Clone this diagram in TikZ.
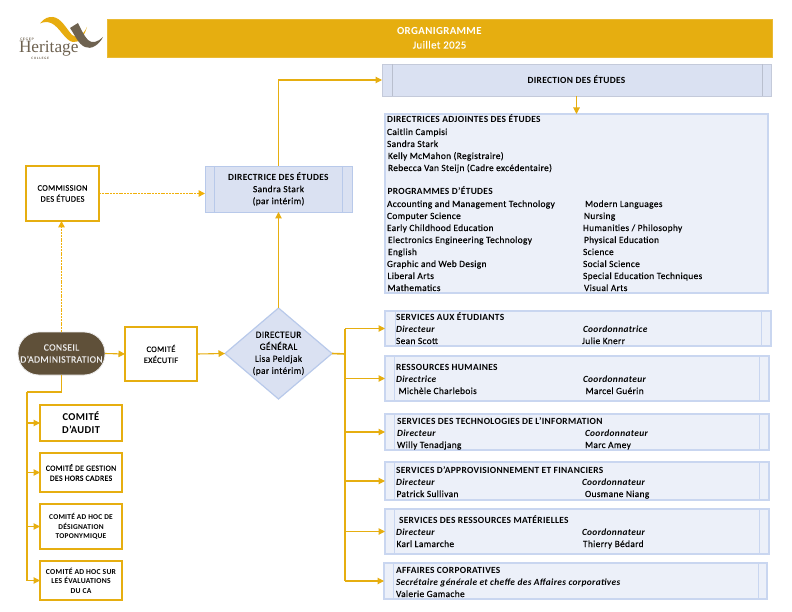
\documentclass[tikz,border=0pt]{standalone}
\usepackage{fontspec}
\setmainfont{Carlito}[LetterSpace=3.5,UprightFeatures={FakeBold=0.25}]
\newfontfamily\logofont{Liberation Serif}
\usetikzlibrary{arrows.meta,shapes.geometric}
\definecolor{gold}{HTML}{E6AE10}
\definecolor{dotgold}{RGB}{240,176,10}
\definecolor{boxblue}{HTML}{DAE1F2}
\definecolor{paleblue}{HTML}{ECF0F9}
\definecolor{edgeblue}{HTML}{B8C9EA}
\definecolor{softedge}{HTML}{C9D6F0}
\definecolor{brownfill}{HTML}{5F5039}
\definecolor{logobrown}{HTML}{6E6250}
\tikzset{x=1pt,y=-1pt,
 every node/.style={inner sep=0pt,outer sep=0pt,font=\fontsize{9.4}{12}\selectfont,text=black},
 conn/.style={draw=gold,line width=1.1pt,-{Triangle[length=6.5pt,width=6.5pt]}},
 plainconn/.style={draw=gold,line width=1.1pt},
 thickconn/.style={draw=gold,line width=1.6pt},
 dotconn/.style={color=dotgold,line width=1.5pt,dash pattern=on 2pt off .8pt,-{Triangle[length=6.5pt,width=6.5pt,color=dotgold,fill=dotgold]}},
 goldbox/.style={draw=gold,line width=1.6pt,fill=white,align=center,font=\fontsize{8.4}{11}\selectfont},
 panel/.style={draw=softedge,line width=1.2pt,fill=paleblue},
 innerline/.style={draw=softedge,line width=1pt},
 deepline/.style={draw=edgeblue,line width=.9pt},
 ltext/.style={anchor=base west},
}
\newcommand\bx[7][]{%
 \pgfmathsetmacro\bxw{#5-#3}\pgfmathsetmacro\bxh{#6-#4}%
 \pgfmathsetmacro\bxx{(#3+#5)/2}\pgfmathsetmacro\bxy{(#4+#6)/2}%
 \node[#1,minimum width=\bxw pt,minimum height=\bxh pt] (#2) at (\bxx,\bxy) {#7};}
\newcommand\lt[3]{\node[ltext] at (#1,#2) {#3};}
\newcommand\il[3]{\node[ltext] at (#1,#2) {\itshape #3};}
\begin{document}
\begin{tikzpicture}
\useasboundingbox (0,0) rectangle (792,612);
% logo
\fill[gold!95!orange] (40,23.5) .. controls (44,18) and (49,16.5) .. (53,17) .. controls (61,18) and (66,28) .. (72,35) .. controls (76,39) and (83,36) .. (87,27) .. controls (84,37) and (79,43) .. (73,42) .. controls (65,41) and (60,27) .. (51,23) .. controls (47,21.5) and (43,22) .. (40,23.5) -- cycle;
\fill[logobrown] (70,28) -- (78,23) .. controls (81,29) and (84,36) .. (88,40) .. controls (92,44) and (98,42) .. (103,37) .. controls (99,45) and (91,50) .. (85,47) .. controls (78,44) and (75,35) .. (70,28) -- cycle;
\node[ltext,font=\logofont\fontsize{17.3}{18}\selectfont,text=logobrown] (logoname) at (19,53) {Heritage};
\node[ltext,font=\sffamily\bfseries\fontsize{3.4}{4}\selectfont,text=logobrown] (logotop) at (20,40.3) {C\,E\,G\,E\,P};
\node[ltext,font=\sffamily\bfseries\fontsize{3.2}{4}\selectfont,text=logobrown] (logobot) at (31,60) {C\,O\,L\,L\,E\,G\,E};
% banner
\bx[fill=gold,draw=gold!85!white,align=center,text=white,font=\fontsize{10.8}{14}\selectfont]{banner}{107}{19}{772}{57}{\textbf{ORGANIGRAMME}\\Juillet 2025}
% direction
\bx[fill=boxblue,draw=boxblue!90!black,line width=.5pt,font=\bfseries\fontsize{9.4}{12}\selectfont]{de}{382}{64}{771}{96}{DIRECTION DES ÉTUDES}
\draw[draw=boxblue!85!black,line width=.5pt] (392,64) -- (392,96) (762,64) -- (762,96);
% programme panel
\bx[panel]{prog}{385}{114}{768}{293}{}
\lt{387}{123}{\textbf{DIRECTRICES ADJOINTES DES ÉTUDES}}
\lt{387}{135}{Caitlin Campisi}
\lt{387}{147}{Sandra Stark}
\lt{388}{159}{Kelly McMahon (Registraire)}
\lt{388}{171}{Rebecca Van Steijn (Cadre excédentaire)}
\lt{387.5}{195}{\textbf{PROGRAMMES D'ÉTUDES}}
\lt{387}{207}{Accounting and Management Technology}
\lt{387}{219}{Computer Science}
\lt{387}{231}{Early Childhood Education}
\lt{388}{243}{Electronics Engineering Technology}
\lt{388}{255}{English}
\lt{387}{267}{Graphic and Web Design}
\lt{387.5}{279}{Liberal Arts}
\lt{387.5}{291}{Mathematics}
\lt{585}{207}{Modern Languages}
\lt{584}{219}{Nursing}
\lt{583}{231}{Humanities / Philosophy}
\lt{584}{243}{Physical Education}
\lt{583}{255}{Science}
\lt{583}{267}{Social Science}
\lt{583}{279}{Special Education Techniques}
\lt{584}{291}{Visual Arts}
% directrice
\bx[fill=boxblue,draw=edgeblue,line width=.9pt,align=center]{dir}{205}{166}{352}{212}{\textbf{DIRECTRICE DES ÉTUDES}\\Sandra Stark\\(par intérim)}
\draw[deepline] (214,166) -- (214,212) (342,166) -- (342,212);
% commission
\bx[goldbox]{com}{26}{166}{99}{221}{COMMISSION\\DES ÉTUDES}
% conseil
\bx[rounded corners=21pt,fill=brownfill,draw=black!8,line width=.8pt,align=center,text=white!92!black,font=\fontsize{9.7}{12}\selectfont]{ca}{18}{332}{105}{375}{CONSEIL\\D'ADMINISTRATION}
% exec
\bx[goldbox]{ce}{125}{327}{197}{381}{COMITÉ\\EXÉCUTIF}
% diamond
\node[diamond,aspect=1.17,fill=boxblue,draw=edgeblue,line width=1.2pt,minimum width=107pt,minimum height=91pt] (dg) at (278.5,353.5) {};
\node[align=center] (dgtext) at (278.5,353.5) {DIRECTEUR\\GÉNÉRAL\\Lisa Peldjak\\(par intérim)};
% left boxes
\bx[goldbox,font=\bfseries\fontsize{10.5}{13}\selectfont]{audit}{40}{405}{122}{441}{COMITÉ\\D'AUDIT}
\bx[goldbox,font=\fontsize{7.9}{10}\selectfont]{gest}{40}{453}{122}{492}{COMITÉ DE GESTION\\DES HORS CADRES}
\bx[goldbox,font=\bfseries\fontsize{7.4}{9.5}\selectfont]{adhoc}{40}{504}{122}{549}{COMITÉ AD HOC DE\\DÉSIGNATION\\TOPONYMIQUE}
\bx[goldbox,font=\bfseries\fontsize{7.6}{9.5}\selectfont]{sur}{40}{561}{122}{600}{COMITÉ AD HOC SUR\\LES ÉVALUATIONS\\DU CA}
% service panels
\bx[panel]{s1}{385}{311}{771}{346}{}
\draw[innerline] (395,311) -- (395,346) (761,311) -- (761,346);
\lt{396}{320}{\textbf{SERVICES AUX ÉTUDIANTS}}
\il{396}{332}{\textbf{Directeur}}\il{583}{332}{\textbf{Coordonnatrice}}
\lt{396}{344}{Sean Scott}\lt{582}{344}{Julie Knerr}
\bx[panel]{s2}{385}{356}{769}{401}{}
\draw[innerline] (394,356) -- (394,401) (759,356) -- (759,401);
\lt{396}{370}{\textbf{RESSOURCES HUMAINES}}
\il{396}{382}{\textbf{Directrice}}\il{583}{382}{\textbf{Coordonnateur}}
\lt{398.5}{394}{Michèle Charlebois}\lt{585.5}{394}{Marcel Guérin}
\bx[panel]{s3}{385}{414}{769}{450}{}
\draw[innerline] (394,414) -- (394,450) (759,414) -- (759,450);
\lt{397}{424}{\textbf{SERVICES DES TECHNOLOGIES DE L'INFORMATION}}
\il{397}{436}{\textbf{Directeur}}\il{585}{436}{\textbf{Coordonnateur}}
\lt{397}{448}{Willy Tenadjang}\lt{585}{448}{Marc Amey}
\bx[panel]{s4}{385}{462}{769}{500}{}
\draw[innerline] (394,462) -- (394,500) (759,462) -- (759,500);
\lt{396}{473}{\textbf{SERVICES D'APPROVISIONNEMENT ET FINANCIERS}}
\il{396}{485}{\textbf{Directeur}}\il{582}{485}{\textbf{Coordonnateur}}
\lt{396.5}{497}{Patrick Sullivan}\lt{585}{497}{Ousmane Niang}
\bx[panel]{s5}{385}{509}{769}{554}{}
\draw[innerline] (394,509) -- (394,554) (759,509) -- (759,554);
\lt{399}{523}{\textbf{SERVICES DES RESSOURCES MATÉRIELLES}}
\il{396}{535}{\textbf{Directeur}}\il{582}{535}{\textbf{Coordonnateur}}
\lt{396.5}{547}{Karl Lamarche}\lt{583}{547}{Thierry Bédard}
\bx[panel]{s6}{384}{563}{767}{599}{}
\draw[innerline] (393,563) -- (393,599) (758,563) -- (758,599);
\lt{396}{573}{\textbf{AFFAIRES CORPORATIVES}}
\il{396}{585}{\textbf{Secrétaire générale et cheffe des Affaires corporatives}}
\lt{396}{597}{Valerie Gamache}
% connectors
\coordinate (bus) at (345,354);
\coordinate (trunk) at (27,392);
\draw[conn] (dir.north) |- (de.west);
\draw[conn] (de.south) -- (prog.north);
\draw[conn] (dg.north) -- (dg.north |- dir.south);
\draw[dotconn] (com.east) -- (com.east -| dir.west);
\draw[dotconn] (ca.north) -- (ca.north |- com.south);
\draw[conn] (ca.east) -- (ce.west);
\draw[conn] (ce.east) -- (dg.west);
\draw[thickconn] (dg.east) -- (bus);
\draw[plainconn] (bus |- s1.west) -- (bus |- s6.west);
\foreach \t in {s1,s2,s3,s4,s5,s6} \draw[conn] (bus |- \t.west) -- (\t.west);
\draw[thickconn] (ca.south) |- (trunk);
\draw[thickconn] (trunk) -- (trunk |- sur.west);
\foreach \t in {audit,gest,adhoc,sur} \draw[conn] (trunk |- \t.west) -- (\t.west);
\end{tikzpicture}
\end{document}
